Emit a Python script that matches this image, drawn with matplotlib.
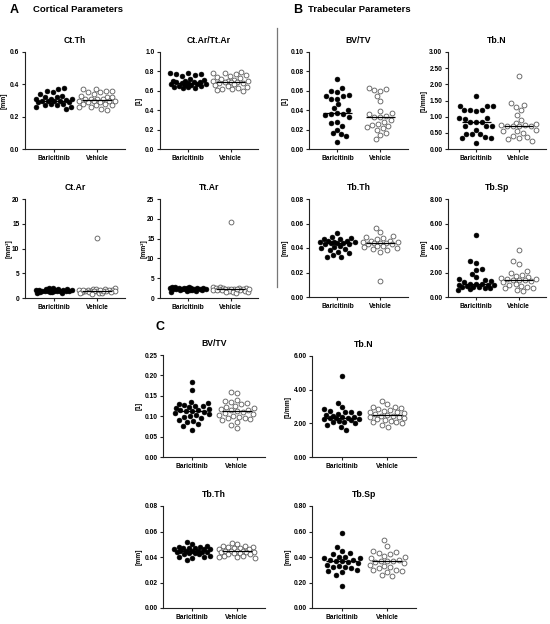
import numpy as np
import matplotlib
matplotlib.use("Agg")
import matplotlib.pyplot as plt
from matplotlib.ticker import FormatStrFormatter

plt.rcParams['font.family'] = ['Liberation Sans', 'DejaVu Sans']
plt.rcParams['font.weight'] = 'bold'

groups = ["Baricitinib", "Vehicle"]

# ---- Panel A: cortical ----
ctth_bar = [0.38, 0.37, 0.36, 0.35, 0.34, 0.33, 0.32, 0.32, 0.31, 0.31, 0.31, 0.305, 0.30,
            0.30, 0.30, 0.30, 0.29, 0.29, 0.28, 0.28, 0.27, 0.27, 0.26, 0.26, 0.25]
ctth_veh = [0.37, 0.37, 0.36, 0.36, 0.35, 0.35, 0.34, 0.33, 0.32, 0.32, 0.31, 0.31, 0.31, 0.30,
            0.30, 0.30, 0.29, 0.29, 0.28, 0.28, 0.27, 0.27, 0.26, 0.26, 0.25, 0.24, 0.31, 0.30]
ctratio_bar = [0.78, 0.78, 0.77, 0.77, 0.76, 0.75, 0.72, 0.71, 0.70, 0.70, 0.69, 0.69, 0.68,
               0.68, 0.67, 0.67, 0.67, 0.66, 0.66, 0.65, 0.65, 0.64, 0.64, 0.63, 0.63, 0.69]
ctratio_veh = [0.79, 0.78, 0.78, 0.77, 0.76, 0.75, 0.74, 0.73, 0.72, 0.71, 0.70, 0.70, 0.69,
               0.69, 0.69, 0.68, 0.67, 0.66, 0.65, 0.64, 0.63, 0.62, 0.62, 0.61, 0.60, 0.70, 0.68]
ctar_bar = [2.1, 2.0, 1.9, 1.85, 1.8, 1.7, 1.65, 1.6, 1.6, 1.55, 1.5, 1.5, 1.5, 1.45, 1.4, 1.4,
            1.35, 1.3, 1.3, 1.2, 1.1, 1.0, 1.6, 1.5]
ctar_veh = [12.2, 2.0, 1.9, 1.85, 1.8, 1.7, 1.65, 1.6, 1.55, 1.5, 1.5, 1.45, 1.4, 1.4, 1.35, 1.3,
            1.25, 1.2, 1.1, 1.0, 0.95, 0.9, 1.5, 1.6, 1.7]
ttar_bar = [2.9, 2.8, 2.7, 2.6, 2.5, 2.5, 2.45, 2.4, 2.4, 2.35, 2.3, 2.3, 2.25, 2.2, 2.2, 2.15,
            2.1, 2.0, 1.95, 1.9, 1.8, 1.7, 1.6, 2.3, 2.4]
ttar_veh = [19.1, 2.8, 2.7, 2.6, 2.5, 2.45, 2.4, 2.35, 2.3, 2.25, 2.2, 2.2, 2.15, 2.1, 2.05, 2.0,
            1.9, 1.8, 1.7, 1.6, 1.5, 1.4, 1.3, 2.2, 2.3]

# ---- Panel B: trabecular ----
bvtv_b_bar = [0.072, 0.063, 0.060, 0.059, 0.056, 0.055, 0.055, 0.052, 0.052, 0.046, 0.042, 0.040,
              0.037, 0.036, 0.036, 0.035, 0.033, 0.028, 0.027, 0.024, 0.020, 0.016, 0.015, 0.013, 0.007]
bvtv_b_veh = [0.063, 0.062, 0.061, 0.060, 0.055, 0.050, 0.039, 0.037, 0.036, 0.034, 0.033, 0.033,
              0.030, 0.028, 0.026, 0.025, 0.024, 0.023, 0.022, 0.020, 0.017, 0.014, 0.010]
tbn_b_bar = [1.65, 1.33, 1.32, 1.32, 1.20, 1.20, 1.18, 1.20, 0.96, 0.95, 0.93, 0.85, 0.83, 0.83,
             0.72, 0.72, 0.72, 0.60, 0.47, 0.47, 0.47, 0.36, 0.35, 0.35, 0.20]
tbn_b_veh = [2.27, 1.42, 1.35, 1.30, 1.20, 1.05, 0.90, 0.80, 0.78, 0.75, 0.73, 0.72, 0.72, 0.70,
             0.70, 0.60, 0.57, 0.55, 0.50, 0.40, 0.38, 0.35, 0.30, 0.26]
tbth_b_bar = [0.052, 0.049, 0.048, 0.047, 0.047, 0.046, 0.046, 0.045, 0.045, 0.045, 0.044, 0.044,
              0.044, 0.043, 0.043, 0.042, 0.041, 0.040, 0.039, 0.038, 0.037, 0.036, 0.034, 0.033, 0.033]
tbth_b_veh = [0.056, 0.053, 0.050, 0.049, 0.048, 0.047, 0.046, 0.046, 0.045, 0.045, 0.044, 0.044,
              0.044, 0.043, 0.043, 0.042, 0.042, 0.041, 0.040, 0.039, 0.038, 0.037, 0.013]
tbsp_b_bar = [5.1, 2.9, 2.8, 2.3, 2.2, 1.9, 1.6, 1.45, 1.35, 1.3, 1.2, 1.1, 1.1, 1.05, 1.0, 1.0,
              0.95, 0.9, 0.85, 0.8, 0.8, 0.75, 0.7, 0.65, 0.6]
tbsp_b_veh = [3.85, 2.9, 2.7, 2.1, 1.95, 1.8, 1.7, 1.6, 1.55, 1.5, 1.45, 1.4, 1.4, 1.35, 1.3, 1.2,
              1.1, 1.0, 0.9, 0.8, 0.75, 0.7, 0.6, 0.45]

# ---- Panel C ----
bvtv_c_bar = [0.183, 0.165, 0.135, 0.133, 0.130, 0.128, 0.126, 0.125, 0.122, 0.120, 0.118, 0.116,
              0.115, 0.113, 0.112, 0.110, 0.108, 0.105, 0.103, 0.100, 0.098, 0.095, 0.090, 0.088,
              0.085, 0.080, 0.075, 0.065]
bvtv_c_veh = [0.160, 0.157, 0.140, 0.138, 0.136, 0.133, 0.130, 0.126, 0.123, 0.120, 0.117, 0.115,
              0.114, 0.112, 0.110, 0.108, 0.105, 0.103, 0.100, 0.098, 0.096, 0.095, 0.093, 0.090,
              0.085, 0.078, 0.070]
tbn_c_bar = [4.8, 3.2, 2.95, 2.85, 2.75, 2.7, 2.65, 2.6, 2.55, 2.5, 2.45, 2.4, 2.35, 2.3, 2.3, 2.3,
             2.25, 2.25, 2.2, 2.15, 2.1, 2.05, 2.0, 1.9, 1.8, 1.6]
tbn_c_veh = [3.3, 3.15, 3.0, 2.95, 2.9, 2.85, 2.8, 2.75, 2.7, 2.65, 2.6, 2.55, 2.5, 2.45, 2.45, 2.4,
             2.35, 2.3, 2.25, 2.2, 2.15, 2.1, 2.05, 2.0, 1.9, 1.8]
tbth_c_bar = [0.052, 0.050, 0.049, 0.048, 0.048, 0.047, 0.047, 0.046, 0.046, 0.045, 0.045, 0.045,
              0.045, 0.044, 0.044, 0.044, 0.043, 0.043, 0.042, 0.042, 0.041, 0.040, 0.040, 0.039,
              0.038, 0.046, 0.047]
tbth_c_veh = [0.051, 0.050, 0.049, 0.049, 0.048, 0.048, 0.047, 0.047, 0.046, 0.046, 0.045, 0.045,
              0.045, 0.045, 0.044, 0.044, 0.044, 0.043, 0.043, 0.042, 0.042, 0.041, 0.041, 0.040,
              0.040, 0.039]
tbsp_c_bar = [0.59, 0.48, 0.45, 0.43, 0.42, 0.40, 0.40, 0.39, 0.39, 0.38, 0.38, 0.37, 0.37, 0.36,
              0.35, 0.34, 0.33, 0.32, 0.32, 0.31, 0.30, 0.29, 0.28, 0.26, 0.17]
tbsp_c_veh = [0.53, 0.49, 0.45, 0.44, 0.43, 0.42, 0.41, 0.40, 0.39, 0.38, 0.37, 0.37, 0.37, 0.36,
              0.35, 0.34, 0.33, 0.32, 0.31, 0.30, 0.30, 0.29, 0.28, 0.26, 0.25]

W, H = 550, 624
fig = plt.figure(figsize=(W / 100, H / 100), dpi=100)


def px_axes(x0, y0, x1, y1):
    return fig.add_axes([x0 / W, 1 - y1 / H, (x1 - x0) / W, (y1 - y0) / H])


def swarm(ax, xc, vals, d=5.8, maxw=18.0):
    vals = np.asarray(vals, float)
    pts = ax.transData.transform(np.column_stack([np.full(len(vals), xc), vals]))
    x0 = pts[0, 0]
    ys = pts[:, 1]
    med = np.median(ys)
    order = np.argsort(np.abs(ys - med))
    cands = sorted(np.arange(-maxw, maxw + 0.01, 0.5), key=lambda c: (abs(c), c))
    placed = []
    offs = np.zeros(len(vals))
    for i in order:
        y = ys[i]
        chosen = None
        bestc, bests = 0.0, -1
        for c in cands:
            m = min((np.hypot(c - px, y - py) for px, py in placed), default=1e9)
            if m >= d:
                chosen = c
                break
            if m > bests + 0.3:
                bests, bestc = m, c
        if chosen is None:
            chosen = bestc
        placed.append((chosen, y))
        offs[i] = chosen
    inv = ax.transData.inverted()
    xs = inv.transform(np.column_stack([x0 + offs, ys]))[:, 0]
    return xs


def panel(rect, title, ylabel, bar, veh, ymax, step, fmt, ylab_px=None):
    ax = px_axes(*rect)
    ax.set_xlim(-0.66, 1.64)
    ax.set_ylim(0, ymax)
    ax.set_yticks(np.arange(0, ymax + step / 2, step))
    ax.yaxis.set_major_formatter(FormatStrFormatter(fmt))
    ax.set_xticks([0, 1])
    ax.set_xticklabels(groups)
    for s in ['top', 'right']:
        ax.spines[s].set_visible(False)
    for s in ['left', 'bottom']:
        ax.spines[s].set_linewidth(0.8)
        ax.spines[s].set_color('#222222')
    ax.tick_params(axis='both', length=2.2, width=0.8, color='#222222',
                   labelsize=4.8, pad=1.8)
    for lab in ax.get_xticklabels() + ax.get_yticklabels():
        lab.set_fontweight('bold')
    ax.set_title(title, fontsize=6.2, fontweight='bold', pad=6.5)
    ax.set_ylabel(ylabel, fontsize=4.8, fontweight='bold', labelpad=1.5)
    if ylab_px is not None:
        ax.yaxis.set_label_coords(ylab_px / (rect[2] - rect[0]), 0.5)
    ax.patch.set_visible(False)

    xb = swarm(ax, 0, bar)
    ax.plot(xb, bar, 'o', ms=3.5, mfc='black', mec='black', mew=0.4, zorder=3, clip_on=False)
    xv = swarm(ax, 1, veh)
    ax.plot(xv, veh, 'o', ms=3.5, mfc='white', mec='#5a5a5a', mew=0.6, zorder=3, clip_on=False)
    for xc, v in [(0, bar), (1, veh)]:
        ax.hlines(np.median(v), xc - 0.34, xc + 0.34, color='black', lw=0.9, zorder=4)
    return ax


# Panel A
panel((25, 52, 125, 149), "Ct.Th", "[mm]", ctth_bar, ctth_veh, 0.6, 0.2, '%.1f')
panel((160, 52, 258, 149), "Ct.Ar/Tt.Ar", "[1]", ctratio_bar, ctratio_veh, 1.0, 0.2, '%.1f')
panel((25, 199, 125, 298), "Ct.Ar", "[mm²]", ctar_bar, ctar_veh, 20, 5, '%d', ylab_px=-12)
panel((160, 199, 258, 298), "Tt.Ar", "[mm²]", ttar_bar, ttar_veh, 25, 5, '%d', ylab_px=-12)

# Panel B
panel((309, 52, 408, 149), "BV/TV", "[1]", bvtv_b_bar, bvtv_b_veh, 0.10, 0.02, '%.2f')
panel((448, 52, 546, 149), "Tb.N", "[1/mm]", tbn_b_bar, tbn_b_veh, 3.0, 0.5, '%.2f')
panel((309, 199, 408, 297), "Tb.Th", "[mm]", tbth_b_bar, tbth_b_veh, 0.08, 0.02, '%.2f')
panel((448, 199, 546, 297), "Tb.Sp", "[mm]", tbsp_b_bar, tbsp_b_veh, 8.0, 2.0, '%.2f')

# Panel C
panel((163, 355, 265, 457), "BV/TV", "[1]", bvtv_c_bar, bvtv_c_veh, 0.25, 0.05, '%.2f')
panel((312, 356, 416, 457), "Tb.N", "[1/mm]", tbn_c_bar, tbn_c_veh, 6.0, 2.0, '%.2f')
panel((163, 506, 265, 608), "Tb.Th", "[mm]", tbth_c_bar, tbth_c_veh, 0.08, 0.02, '%.2f')
panel((312, 506, 416, 608), "Tb.Sp", "[mm]", tbsp_c_bar, tbsp_c_veh, 0.80, 0.20, '%.2f')

# Headers
fig.text(10 / W, 1 - 10 / H, "A", fontsize=9, fontweight='bold', va='center', ha='left')
fig.text(33 / W, 1 - 10 / H, "Cortical Parameters", fontsize=6.8, fontweight='bold',
         va='center', ha='left')
fig.text(293 / W, 1 - 10 / H, "B", fontsize=9, fontweight='bold', va='center', ha='left')
fig.text(308 / W, 1 - 10 / H, "Trabecular Parameters", fontsize=6.8, fontweight='bold',
         va='center', ha='left')
fig.text(155 / W, 1 - 327 / H, "C", fontsize=9, fontweight='bold', va='center', ha='left')

# separator line
fig.add_artist(plt.Line2D([277 / W, 277 / W], [1 - 28 / H, 1 - 287 / H],
                          color='#777777', lw=0.9, transform=fig.transFigure))

fig.savefig("out.png", dpi=100, facecolor='white')
